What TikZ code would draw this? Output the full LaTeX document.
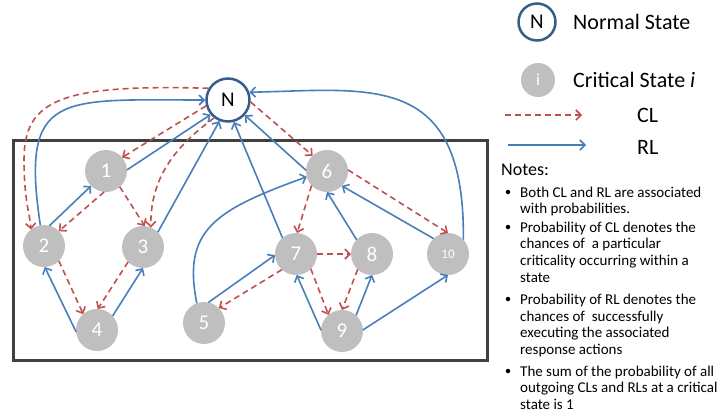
\documentclass[tikz,border=0pt]{standalone}
\usepackage{fontspec}
\setmainfont{Carlito}
\usetikzlibrary{arrows.meta}
\definecolor{rlblue}{HTML}{4A7EBB}
\definecolor{clred}{HTML}{C0504D}
\definecolor{nblue}{HTML}{385D8A}
\definecolor{sgray}{HTML}{BFBFBF}
\definecolor{boxgray}{HTML}{404040}
\begin{document}
\begin{tikzpicture}[x=1pt,y=-1pt,
  crit/.style={circle,fill=sgray,minimum size=42pt,inner sep=0pt,outer sep=0pt,text=white,font=\fontsize{21}{21}\selectfont},
  norm/.style={circle,draw=nblue,line width=2.5pt,fill=white,minimum size=43pt,inner sep=0pt,font=\fontsize{21}{21}\selectfont},
  tipstyle/.style={-{Straight Barb[length=5pt,width=10pt,line width=1.6pt]}},
  rl/.style={draw=rlblue,line width=1.6pt,tipstyle},
  cl/.style={draw=clred,line width=1.6pt,dash pattern=on 6pt off 4pt,tipstyle},
  legtxt/.style={anchor=west,inner sep=0pt,font=\fontsize{22}{22}\selectfont},
  note/.style={anchor=base west,inner sep=0pt,font=\fontsize{15}{16}\selectfont},
  bullet/.style={anchor=center,fill=black,circle,inner sep=0pt,minimum size=4.5pt},
]
\useasboundingbox (0,0) rectangle (722,418);
\fill[white] (0,0) rectangle (722,418);

% frame
\draw[boxgray,line width=3pt] (13,140) rectangle (487,360);

% nodes
\node[norm] (N) at (228,100) {N};
\node[crit] (s1) at (106,171) {1};
\node[crit] (s2) at (44,246) {2};
\node[crit] (s3) at (143,247) {3};
\node[crit] (s4) at (97,330) {4};
\node[crit] (s5) at (204,323) {5};
\node[crit] (s6) at (327,171) {6};
\node[crit] (s7) at (296,254) {7};
\node[crit] (s8) at (372,254) {8};
\node[crit] (s9) at (342,331) {9};
\node[crit,font=\fontsize{13}{13}\selectfont] (s10) at (448,254) {10};

% RL (blue)
\draw[rl] (s2.100) .. controls (20,90) and (60,100) .. (N.180);
\draw[rl] (s1.3) -- (N.220);
\draw[rl] (s3.45) -- (N.248);
\draw[rl] (s2.75) -- (s1.225);
\draw[rl] (s4.185) -- (s2.272);
\draw[rl] (s4.42) -- (s3.270);
\draw[rl] (s5.110) .. controls (182,230) and (215,210) .. (s6.196);
\draw[rl] (s5.78) -- (s7.183);
\draw[rl] (s7.130) -- (N.285);
\draw[rl] (s6.178) -- (N.318);
\draw[rl] (s8.137) -- (s6.270);
\draw[rl] (s10.133) -- (s6.315);
\draw[rl] (s9.178) -- (s7.272);
\draw[rl] (s9.48) -- (s8.270);
\draw[rl] (s9.3) -- (s10.270);
\draw[rl] (s10.43) .. controls (465,70) and (370,90) .. (N.20);

% CL (red dashed)
\draw[cl] (N.149) .. controls (60,84) and (24,100) .. (24,160) .. controls (24,200) and (30,215) .. (s2.128);
\draw[cl] (N.195) -- (s1.40);
\draw[cl] (N.232) .. controls (185,140) and (150,170) .. (s3.68);
\draw[cl] (s1.265) -- (s2.45);
\draw[cl] (s1.311) -- (s3.85);
\draw[cl] (s2.315) -- (s4.131);
\draw[cl] (s3.225) -- (s4.88);
\draw[cl] (s7.228) -- (s5.45);
\draw[cl] (N.355) -- (s6.133);
\draw[cl] (s6.223) -- (s7.87);
\draw[cl] (s6.3) -- (s10.90);
\draw[cl] (s7.0) -- (s8.180);
\draw[cl] (s7.315) -- (s9.130);
\draw[cl] (s8.227) -- (s9.90);

% legend
\node[norm,minimum size=37pt] (lN) at (537,22) {N};
\node[legtxt] (lNt) at (573,22) {Normal State};
\node[crit,minimum size=34pt,font=\fontsize{17}{17}\selectfont] (li) at (538,80) {i};
\node[legtxt] (lit) at (573,80) {Critical State \textit{i}};
\coordinate (cla) at (505,115);
\coordinate (clb) at (582,115);
\draw[cl] (cla) -- (clb);
\node[legtxt] (clt) at (637,115) {CL};
\coordinate (rla) at (508,145);
\coordinate (rlb) at (586,145);
\draw[rl] (rla) -- (rlb);
\node[legtxt] (rlt) at (637,147) {RL};

% notes
\node[note,font=\fontsize{18}{18}\selectfont] (nt0) at (501,175) {Notes:};
\node[bullet] (b1) at (508,192) {};
\node[note] (t1a) at (520,197) {Both CL and RL are associated};
\node[note] (t1b) at (520,213) {with probabilities.};
\node[bullet] (b2) at (508,227) {};
\node[note] (t2a) at (520,232) {Probability of CL denotes the};
\node[note] (t2b) at (520,248) {chances of~ a particular};
\node[note] (t2c) at (520,265) {criticality occurring within a};
\node[note] (t2d) at (520,282) {state};
\node[bullet] (b3) at (508,299) {};
\node[note] (t3a) at (520,304) {Probability of RL denotes the};
\node[note] (t3b) at (520,321) {chances of~ successfully};
\node[note] (t3c) at (520,337) {executing the associated};
\node[note] (t3d) at (520,354) {response actions};
\node[bullet] (b4) at (508,371) {};
\node[note] (t4a) at (520,376) {The sum of the probability of all};
\node[note] (t4b) at (520,392) {outgoing CLs and RLs at a critical};
\node[note] (t4c) at (520,409) {state is 1};
\end{tikzpicture}
\end{document}
